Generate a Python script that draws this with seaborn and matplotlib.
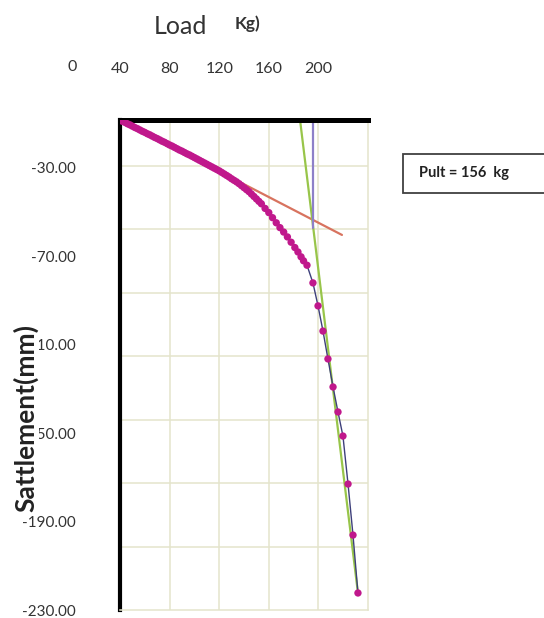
import numpy as np
import pandas as pd
import matplotlib
matplotlib.use("Agg")
import matplotlib.pyplot as plt
import matplotlib.patches as mpatches
import seaborn as sns

# load-settlement readings (load in kg, settlement in mm)
load = [40, 42, 44, 46, 48, 50, 52, 54, 56, 58,
        60, 62, 64, 66, 68, 70, 72, 74, 76, 78,
        80, 82, 84, 86, 88, 90, 92, 94, 96, 98,
        100, 102, 104, 106, 108, 110, 112, 114, 116, 118,
        120, 122, 124, 126, 128, 130, 132, 134, 136, 138,
        140, 142, 144, 146, 148, 150, 152, 154, 157, 160,
        163, 166, 169, 172, 175, 178, 181, 183.5, 186, 188,
        190.8, 195.6, 199.7, 203.7, 207.7, 211.8, 215.8, 219.8, 223.9, 227.9,
        231.9]
settlement = [-8.3, -8.9, -9.4, -10.0, -10.5, -11.1, -11.7, -12.2, -12.8, -13.4,
              -13.9, -14.5, -15.0, -15.6, -16.2, -16.7, -17.3, -17.9, -18.4, -19.0,
              -19.6, -20.1, -20.7, -21.3, -21.9, -22.4, -23.0, -23.6, -24.1, -24.7,
              -25.3, -25.9, -26.5, -27.1, -27.7, -28.3, -28.9, -29.5, -30.1, -30.7,
              -31.3, -32.0, -32.7, -33.4, -34.1, -34.9, -35.6, -36.3, -37.1, -38.0,
              -38.9, -39.8, -40.7, -41.8, -42.9, -44.0, -45.1, -46.2, -48.3, -50.2,
              -52.5, -54.8, -57.0, -59.0, -61.2, -63.6, -66.0, -68.0, -70.2, -72.0,
              -74.0, -82.0, -92.4, -103.8, -116.4, -129.1, -140.4, -151.3, -173.0, -196.1,
              -222.3]

# tangent construction for the ultimate load
initial_tan_load = [40.0, 219.0]
initial_tan_settle = [-8.3, -60.3]
final_tan_load = [185.2, 231.9]
final_tan_settle = [-8.3, -222.3]
pult_load = [195.6, 195.6]
pult_settle = [-8.3, -57.1]

x_ticks = [40, 80, 120, 160, 200]
y_ticks = [-30, -70, -110, -150, -190, -230]

df = pd.DataFrame({"load": load, "settlement": settlement})

sns.set_style("white")
plt.rcParams["font.family"] = ["Lato", "DejaVu Sans"]

fig = plt.figure(figsize=(5.44, 6.18), dpi=100)
ax = fig.add_axes([120 / 544, 8 / 618, 248 / 544, 490 / 618])

grid_col = "#e4e4cc"

sns.lineplot(data=df, x="load", y="settlement", sort=False, estimator=None,
             color="#3d3f7a", linewidth=1.0, ax=ax, zorder=3)
sns.scatterplot(data=df, x="load", y="settlement", color="#c0188c", s=28,
                edgecolor="none", ax=ax, zorder=4)
sns.lineplot(x=initial_tan_load, y=initial_tan_settle, sort=False, estimator=None,
             color="#d8735f", linewidth=1.6, ax=ax, zorder=2)
sns.lineplot(x=final_tan_load, y=final_tan_settle, sort=False, estimator=None,
             color="#98c54a", linewidth=1.6, ax=ax, zorder=2)
sns.lineplot(x=pult_load, y=pult_settle, sort=False, estimator=None,
             color="#8d80c8", linewidth=1.6, ax=ax, zorder=2)

ax.set_xlim(40, 240)
ax.set_ylim(-230, -8.3)
ax.xaxis.tick_top()
ax.set_xticks(x_ticks)
ax.set_xticklabels([str(v) for v in x_ticks])
ax.set_yticks(y_ticks)
ax.set_yticklabels([f"{v:.2f}" for v in y_ticks])
ax.set_yticks(np.linspace(-230, -29.1, 8), minor=True)
ax.set_xlabel("")
ax.set_ylabel("")

ax.grid(False)
ax.grid(True, which="major", axis="x", color=grid_col, linewidth=1.1)
ax.grid(True, which="minor", axis="y", color=grid_col, linewidth=1.1)
ax.set_axisbelow(True)
ax.tick_params(axis="both", which="both", length=0, colors="#333333")
ax.tick_params(axis="y", labelsize=11, pad=32)
ax.tick_params(axis="x", labelsize=11.5, pad=32)

ax.spines["top"].set_linewidth(3.6)
ax.spines["top"].set_color("black")
ax.spines["left"].set_linewidth(3.0)
ax.spines["left"].set_color("black")
ax.spines["right"].set_color(grid_col)
ax.spines["bottom"].set_color(grid_col)
ax.spines["right"].set_linewidth(1.1)
ax.spines["bottom"].set_linewidth(1.1)

# the "0" label sits left of the plotted range
ax.text(1.5, 1 + 46 / 490, "0", transform=ax.get_xaxis_transform(), ha="center",
        va="bottom", fontsize=11.5, color="#333333", clip_on=False)

fig.text(180 / 544, 1 - 26 / 618, "Load", fontsize=18, ha="center",
         va="center", color="#333333")
fig.text(248 / 544, 1 - 24 / 618, "Kg)", fontsize=12.5, fontweight="bold",
         ha="center", va="center", color="#333333")

fig.text(26 / 544, 1 - 418 / 618, "Sattlement(mm)", rotation=90, fontsize=19,
         fontweight="bold", ha="center", va="center", color="#222222",
         bbox=dict(facecolor="white", edgecolor="none", pad=0))

box = mpatches.Rectangle((403 / 544, 1 - 193 / 618), 142 / 544, 39 / 618,
                         transform=fig.transFigure, facecolor="white",
                         edgecolor="#404040", linewidth=1.3)
fig.add_artist(box)
fig.text(419 / 544, 1 - 173 / 618, "Pult = 156  kg", fontsize=10.5,
         fontweight="bold", ha="left", va="center", color="#222222")

fig.savefig("out.png", dpi=100)
